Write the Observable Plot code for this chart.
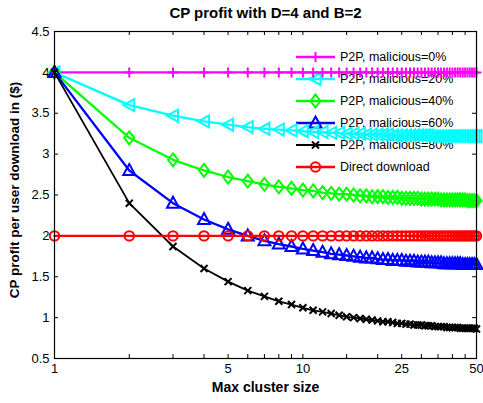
<!DOCTYPE html>
<html><head><meta charset="utf-8">
<script src="https://cdn.jsdelivr.net/npm/d3@7"></script>
<script src="https://cdn.jsdelivr.net/npm/@observablehq/plot@0.6"></script>
<style>
body{margin:0;background:#fff}
svg{font-family:"Liberation Sans",Arial,Helvetica,sans-serif}
</style>
</head><body><div id="chart"></div>
<script>
const title = "CP profit with D=4 and B=2";
const xLabel = "Max cluster size";
const yLabel = "CP profit per user download in ($)";

const clusterSizes = [1,2,3,4,5,6,7,8,9,10,11,12,13,14,15,16,17,18,19,20,21,22,23,24,25,26,27,28,29,30,31,32,33,34,35,36,37,38,39,40,41,42,43,44,45,46,47,48,49,50];

const seriesNames = ["P2P, malicious=0%","P2P, malicious=20%","P2P, malicious=40%","P2P, malicious=60%","P2P, malicious=80%","Direct download"];

const mal0 = [4,4,4,4,4,4,4,4,4,4,4,4,4,4,4,4,4,4,4,4,4,4,4,4,4,4,4,4,4,4,4,4,4,4,4,4,4,4,4,4,4,4,4,4,4,4,4,4,4,4];
const mal20 = [4.00,3.60,3.47,3.40,3.36,3.33,3.31,3.30,3.29,3.28,3.27,3.27,3.26,3.26,3.25,3.25,3.25,3.24,3.24,3.24,3.24,3.24,3.23,3.23,3.23,3.23,3.23,3.23,3.23,3.23,3.23,3.23,3.22,3.22,3.22,3.22,3.22,3.22,3.22,3.22,3.22,3.22,3.22,3.22,3.22,3.22,3.22,3.22,3.22,3.22];
const mal40 = [4.00,3.20,2.93,2.80,2.72,2.67,2.63,2.60,2.58,2.56,2.55,2.53,2.52,2.51,2.51,2.50,2.49,2.49,2.48,2.48,2.48,2.47,2.47,2.47,2.46,2.46,2.46,2.46,2.46,2.45,2.45,2.45,2.45,2.45,2.45,2.44,2.44,2.44,2.44,2.44,2.44,2.44,2.44,2.44,2.44,2.43,2.43,2.43,2.43,2.43];
const mal60 = [4.00,2.80,2.40,2.20,2.08,2.00,1.94,1.90,1.87,1.84,1.82,1.80,1.78,1.77,1.76,1.75,1.74,1.73,1.73,1.72,1.71,1.71,1.70,1.70,1.70,1.69,1.69,1.69,1.68,1.68,1.68,1.68,1.67,1.67,1.67,1.67,1.66,1.66,1.66,1.66,1.66,1.66,1.66,1.65,1.65,1.65,1.65,1.65,1.65,1.65];
const mal80 = [4.00,2.40,1.87,1.60,1.44,1.33,1.26,1.20,1.16,1.12,1.09,1.07,1.05,1.03,1.01,1.00,0.99,0.98,0.97,0.96,0.95,0.95,0.94,0.93,0.93,0.92,0.92,0.91,0.91,0.91,0.90,0.90,0.90,0.89,0.89,0.89,0.89,0.88,0.88,0.88,0.88,0.88,0.87,0.87,0.87,0.87,0.87,0.87,0.87,0.86];
const direct = [2,2,2,2,2,2,2,2,2,2,2,2,2,2,2,2,2,2,2,2,2,2,2,2,2,2,2,2,2,2,2,2,2,2,2,2,2,2,2,2,2,2,2,2,2,2,2,2,2,2];

const xTickLabels = [1,5,10,25,50];
const xTickMarks = [1,2,3,4,5,6,7,8,9,10,15,20,25,30,35,40,45,50];
const yTicks = [0.5,1,1.5,2,2.5,3,3.5,4,4.5];

const colors = ["#ff00ff","#00ffff","#00ff00","#0000ff","#000000","#ff0000"];
const seriesValues = [mal0, mal20, mal40, mal60, mal80, direct];

// marker shapes (MATLAB-like), scaled by r
function sym(fn){ return {draw(ctx, size){ const R = Math.sqrt(size/Math.PI)/5; fn(ctx, R); }}; }
const symbols = [
  sym((c,k)=>{ c.moveTo(-5*k,0); c.lineTo(5*k,0); c.moveTo(0,-5*k); c.lineTo(0,5*k); }),
  sym((c,k)=>{ c.moveTo(-6*k,0); c.lineTo(5*k,-6*k); c.lineTo(5*k,6*k); c.closePath(); }),
  sym((c,k)=>{ c.moveTo(0,-6.5*k); c.lineTo(5*k,0); c.lineTo(0,6.5*k); c.lineTo(-5*k,0); c.closePath(); }),
  sym((c,k)=>{ c.moveTo(0,-6.5*k); c.lineTo(6*k,4.5*k); c.lineTo(-6*k,4.5*k); c.closePath(); }),
  sym((c,k)=>{ c.moveTo(-3.5*k,-3.5*k); c.lineTo(3.5*k,3.5*k); c.moveTo(3.5*k,-3.5*k); c.lineTo(-3.5*k,3.5*k); }),
  sym((c,k)=>{ c.moveTo(4.7*k,0); c.arc(0,0,4.7*k,0,2*Math.PI); c.closePath(); })
];
const lineWidths = [2.3,2.3,2.3,2.3,1.8,2.3];
const markWidths = [2,2,2,2,2,2];

const W = 483, H = 403, mL = 54, mR = 7, mT = 31, mB = 45;
const fH = H - mT - mB, fW = W - mL - mR;
const tick = 4;

const marks = [
  Plot.ruleX(xTickMarks, {x: d => d, insetTop: fH - tick, stroke: "#000"}),
  Plot.ruleX(xTickMarks, {x: d => d, insetBottom: fH - tick, stroke: "#000"}),
  Plot.ruleY(yTicks, {y: d => d, insetRight: fW - tick, stroke: "#000"}),
  Plot.ruleY(yTicks, {y: d => d, insetLeft: fW - tick, stroke: "#000"})
];
seriesValues.forEach((vals, s) => {
  marks.push(Plot.line(vals, {x: (d, i) => clusterSizes[i], y: d => d, stroke: colors[s], strokeWidth: lineWidths[s]}));
  marks.push(Plot.dot(vals, {x: (d, i) => clusterSizes[i], y: d => d, stroke: colors[s], strokeWidth: markWidths[s], fill: "none", symbol: symbols[s], r: 5}));
});
marks.push(Plot.frame({stroke: "#000", strokeWidth: 1.2}));
marks.push(Plot.text([title], {text: d => d, frameAnchor: "top", dy: -18, lineAnchor: "middle", fontWeight: "bold", fontSize: 15, fill: "#000"}));
marks.push(Plot.text([xLabel], {text: d => d, frameAnchor: "bottom", dy: 29, lineAnchor: "middle", fontWeight: "bold", fontSize: 14, fill: "#000"}));
marks.push(Plot.text([yLabel], {text: d => d, frameAnchor: "left", textAnchor: "middle", dx: -40, dy: -5, rotate: -90, lineAnchor: "middle", fontWeight: "bold", fontSize: 13.5, fill: "#000"}));

const chart = Plot.plot({
  width: W, height: H,
  marginLeft: mL, marginRight: mR, marginTop: mT, marginBottom: mB,
  style: {fontSize: "13px", color: "#000", background: "#fff", overflow: "visible"},
  x: {type: "log", domain: [1, 50], ticks: xTickLabels, tickFormat: d => String(d), tickSize: 0, tickPadding: 5, label: null},
  y: {domain: [0.5, 4.5], ticks: yTicks, tickFormat: d => String(d), tickSize: 0, tickPadding: 5, label: null},
  marks
});
document.getElementById("chart").appendChild(chart);

// legend inside the plot (no box), drawn beneath the data as in the reference
const svg = d3.select(chart);
const lg = svg.insert("g", "g").attr("class", "legend").attr("text-anchor", "start");
const lx0 = 296, lx1 = 335, ltx = 340, ly0 = 57, lstep = 22;
seriesNames.forEach((name, i) => {
  const y = ly0 + i * lstep;
  lg.append("line").attr("x1", lx0).attr("x2", lx1).attr("y1", y).attr("y2", y)
    .attr("stroke", colors[i]).attr("stroke-width", lineWidths[i]);
  lg.append("path").attr("transform", `translate(${(lx0 + lx1) / 2},${y})`)
    .attr("d", d3.symbol(symbols[i], Math.PI * 25)())
    .attr("fill", "none").attr("stroke", colors[i]).attr("stroke-width", markWidths[i]);
  lg.append("text").attr("x", ltx).attr("y", y).attr("dy", "0.35em")
    .attr("text-anchor", "start")
    .attr("font-size", 12.5).attr("fill", "#000").text(name);
});
</script>
</body></html>
